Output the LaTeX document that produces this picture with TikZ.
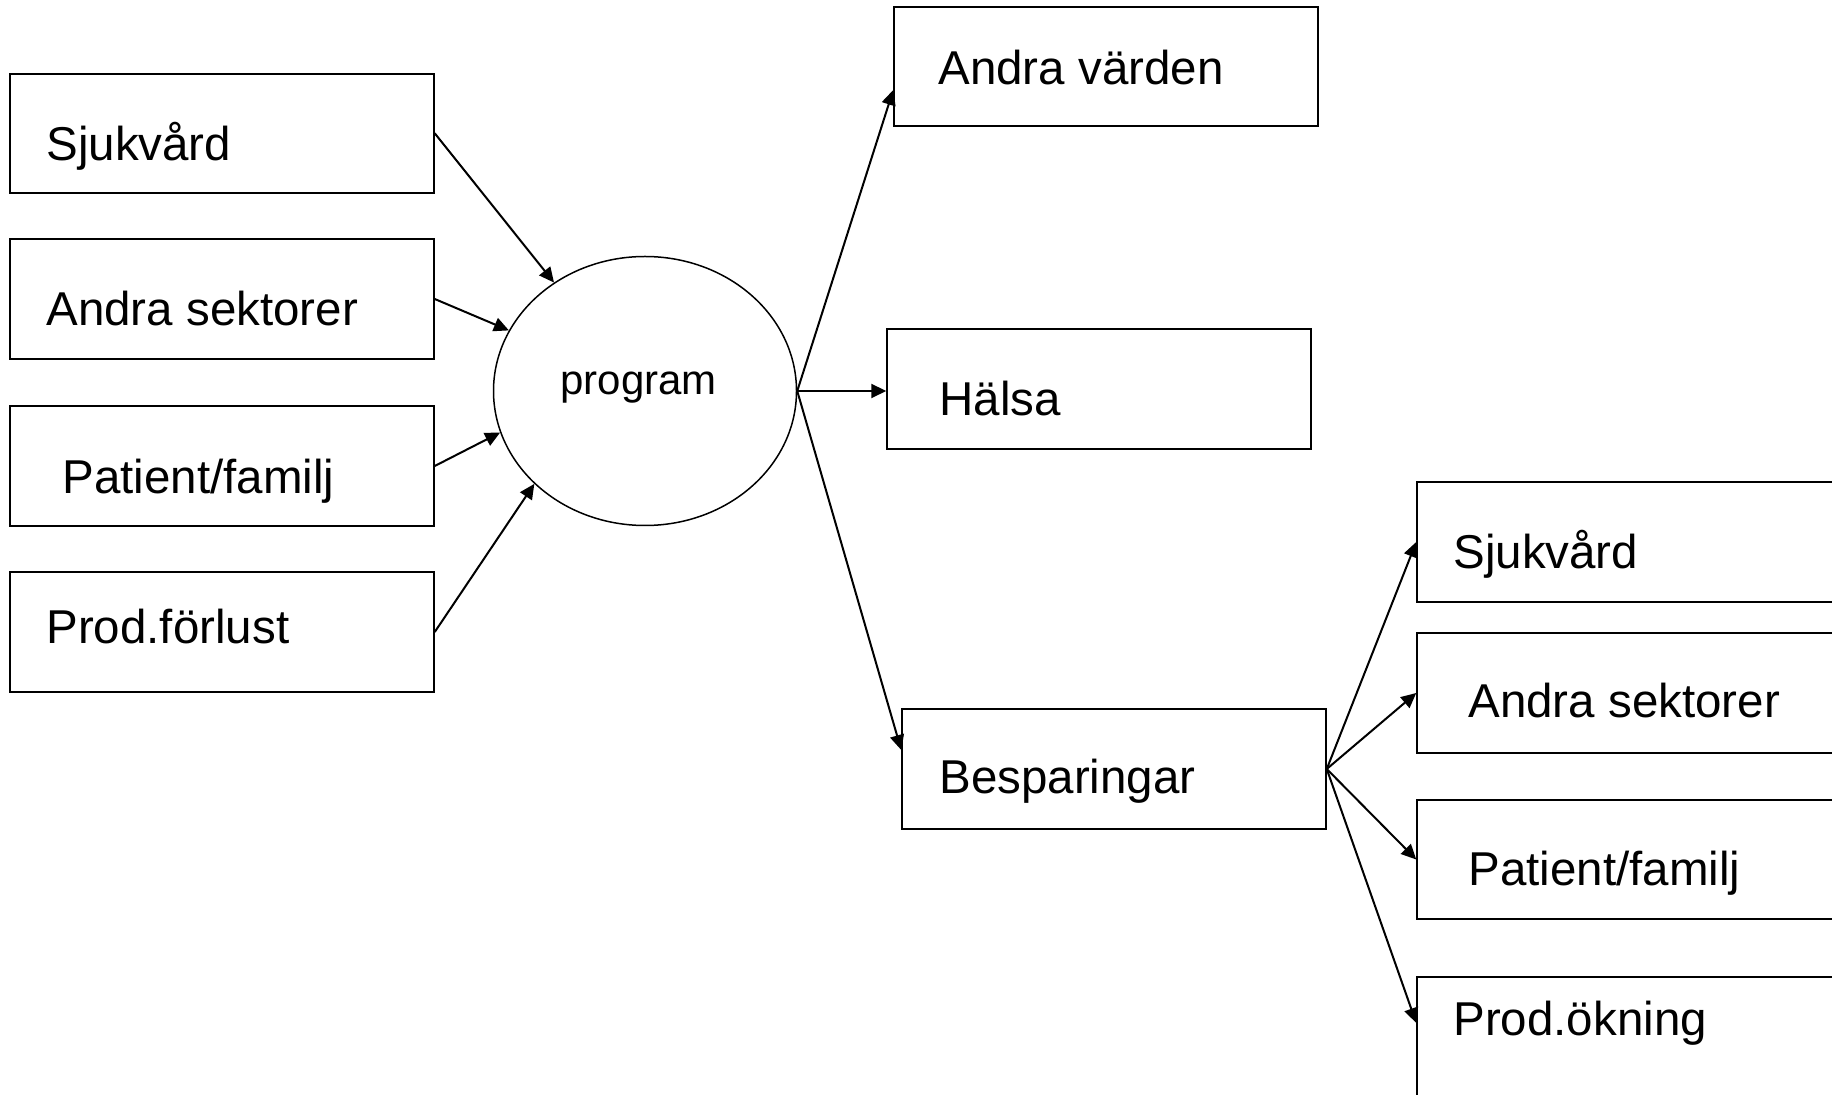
\documentclass[tikz,border=0pt]{standalone}
\usepackage{fontspec}
\setmainfont{Liberation Sans}
\usetikzlibrary{arrows.meta,shapes.geometric}
\begin{document}
\begin{tikzpicture}[x=0.5pt,y=-0.5pt,
  box/.style={draw,line width=1pt,rectangle,minimum width=211.75pt,minimum height=59.75pt,inner sep=0pt},
  lbl/.style={anchor=base west,inner sep=0pt,font=\fontsize{23.75pt}{28pt}\selectfont},
  arr/.style={line width=1pt,-{Triangle[length=7.5pt,width=7pt]}}]
\useasboundingbox (0,0) rectangle (1832,1095);
\clip (0,0) rectangle (1832,1095);
\fill[white] (0,0) rectangle (1832,1095);
% left boxes
\node[box] (l1) at (222,133.3) {};
\node[box] (l2) at (222,299) {};
\node[box] (l3) at (222,466) {};
\node[box] (l4) at (222,632) {};
\node[lbl] (t1) at (46,161) {Sjukvård};
\node[lbl] (t2) at (46,326) {Andra sektorer};
\node[lbl] (t3) at (62,493.5) {Patient/familj};
\node[lbl] (t4) at (46,644) {Prod.förlust};
% program
\node[draw,ellipse,line width=0.75pt,minimum width=151.5pt,minimum height=134.5pt,inner sep=0pt] (prog) at (645,391) {};
\node[anchor=base west,inner sep=0pt,font=\fontsize{21pt}{25pt}\selectfont] (pt) at (560,395) {program};
% middle boxes
\node[box] (av) at (1106,66.5) {};
\node[box] (h) at (1099,389) {};
\node[box] (bes) at (1114,769) {};
\node[lbl] (tav) at (938,85) {Andra värden};
\node[lbl] (th) at (939,415.5) {Hälsa};
\node[lbl] (tbes) at (939,794) {Besparingar};
% right boxes
\node[box] (r1) at (1629,542) {};
\node[box] (r2) at (1629,693) {};
\node[box] (r3) at (1629,859.5) {};
\node[box] (r4) at (1629,1037) {};
\node[lbl] (tr1) at (1453,568.5) {Sjukvård};
\node[lbl] (tr2) at (1468,718) {Andra sektorer};
\node[lbl] (tr3) at (1468,885) {Patient/familj};
\node[lbl] (tr4) at (1453,1035) {Prod.ökning};
% arrows
\draw[arr] (l1.east) -- (prog.130.25);
\draw[arr] (l2.east) -- (prog.156);
\draw[arr] (l3.east) -- (prog.196.7);
\draw[arr] (l4.east) -- (prog.220.7);
\draw[arr] (prog.east) -- ([yshift=-11.75pt]av.west);
\draw[arr] (prog.east) -- (prog.east -| h.west);
\draw[arr] (prog.east) -- ([yshift=9.5pt]bes.west);
\draw[arr] (bes.east) -- (r1.west);
\draw[arr] (bes.east) -- (r2.west);
\draw[arr] (bes.east) -- (r3.west);
\draw[arr] (bes.east) -- ([yshift=7pt]r4.west);
\end{tikzpicture}
\end{document}
